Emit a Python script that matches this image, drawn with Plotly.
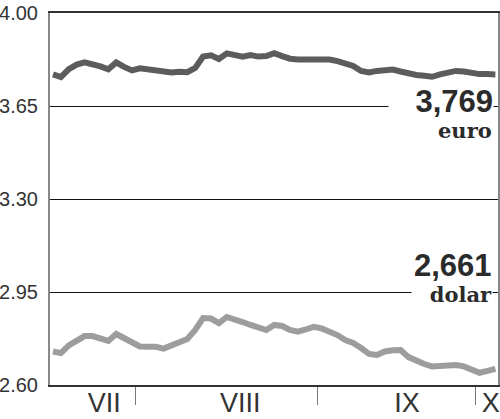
import plotly.graph_objects as go

# business-day index (17 VII 2007 .. 3 X 2007)
day_index = list(range(57))

euro = [3.769, 3.759, 3.789, 3.806, 3.814, 3.808, 3.799, 3.788, 3.814, 3.797,
        3.784, 3.792, 3.788, 3.780, 3.775, 3.776, 3.779, 3.777, 3.793, 3.836,
        3.841, 3.827, 3.848, 3.840, 3.836, 3.842, 3.836, 3.838, 3.849, 3.838,
        3.828, 3.825, 3.825, 3.830, 3.828, 3.825, 3.819, 3.812, 3.801, 3.782,
        3.776, 3.782, 3.786, 3.787, 3.780, 3.772, 3.767, 3.764, 3.760, 3.769,
        3.778, 3.782, 3.780, 3.774, 3.770, 3.770, 3.769]

dolar = [2.726, 2.720, 2.749, 2.769, 2.784, 2.784, 2.773, 2.766, 2.792, 2.775,
         2.760, 2.745, 2.744, 2.744, 2.737, 2.751, 2.764, 2.773, 2.807, 2.852,
         2.850, 2.833, 2.856, 2.848, 2.837, 2.826, 2.816, 2.807, 2.826, 2.822,
         2.807, 2.801, 2.809, 2.819, 2.813, 2.801, 2.788, 2.769, 2.758, 2.739,
         2.717, 2.713, 2.726, 2.731, 2.732, 2.705, 2.689, 2.679, 2.670, 2.672,
         2.675, 2.675, 2.670, 2.658, 2.646, 2.653, 2.661]

month_boundaries = [10.5, 33.5, 53.5]
month_label_pos = [6.5, 23.7, 44.8, 55.4]
month_labels = ["VII", "VIII", "IX", "X"]

y_ticks = [2.60, 2.95, 3.30, 3.65, 4.00]
y_tick_text = ["2.60", "2.95", "3.30", "3.65", "4.00"]

last_euro_text = "3,769"
last_dolar_text = "2,661"

fig = go.Figure()
fig.add_trace(go.Scatter(x=day_index, y=euro, mode="lines",
                         line=dict(color="#5c5c5c", width=6), hoverinfo="skip"))
fig.add_trace(go.Scatter(x=day_index, y=dolar, mode="lines",
                         line=dict(color="#9d9d9d", width=6), hoverinfo="skip"))
# invisible trace to activate second x axis for month labels
fig.add_trace(go.Scatter(x=[day_index[0]], y=[euro[0]], xaxis="x2", mode="markers",
                         marker=dict(opacity=0), hoverinfo="skip"))

xr = [-0.38, 56.33]
fig.update_layout(
    width=500, height=419,
    margin=dict(l=50, r=2, t=13, b=34, autoexpand=False),
    paper_bgcolor="white", plot_bgcolor="white",
    showlegend=False,
    xaxis=dict(range=xr, tickvals=month_boundaries, showticklabels=False,
               ticks="outside", ticklen=18, tickwidth=1, tickcolor="#777",
               showgrid=False, zeroline=False, showline=True, linecolor="#333",
               linewidth=1.5, mirror=True, automargin=False),
    xaxis2=dict(range=xr, overlaying="x", side="bottom", tickvals=month_label_pos,
                ticktext=month_labels, ticks="", showgrid=False, zeroline=False,
                showline=False, ticklabelstandoff=-1, automargin=False,
                ticklabeloverflow="allow",
                tickfont=dict(family="Liberation Sans Narrow, Liberation Sans", size=27, color="#333")),
    yaxis=dict(range=[2.60, 4.00], tickvals=y_ticks, ticktext=y_tick_text,
               showgrid=True, gridcolor="#111", gridwidth=1, zeroline=False,
               showline=True, linecolor="#888", linewidth=2, mirror=True,
               ticks="", ticklabelstandoff=6, automargin=False,
               ticklabeloverflow="allow",
               tickfont=dict(family="Liberation Sans", size=20, color="#333")),
)

big = dict(family="Liberation Sans", size=31, color="#2b2b2b")
small = dict(family="DejaVu Serif", size=21, color="#2b2b2b")
fig.add_annotation(xref="paper", yref="y", x=1, y=3.65, xanchor="right", yanchor="middle",
                   xshift=-4, yshift=5, text="<b>" + last_euro_text + "</b>", font=big,
                   showarrow=False, bgcolor="white", width=104, align="right", borderpad=0)
fig.add_annotation(xref="paper", yref="y", x=1, y=3.65, xanchor="right", yanchor="middle",
                   xshift=-4, yshift=-24, text="<b>euro</b>", font=small,
                   showarrow=False, align="right")
fig.add_annotation(xref="paper", yref="y", x=1, y=2.95, xanchor="right", yanchor="middle",
                   xshift=-4, yshift=27, text="<b>" + last_dolar_text + "</b>", font=big,
                   showarrow=False, align="right")
fig.add_annotation(xref="paper", yref="y", x=1, y=2.95, xanchor="right", yanchor="middle",
                   xshift=-5, yshift=-2, text="<b>dolar</b>", font=small,
                   showarrow=False, bgcolor="white", width=80, align="right", borderpad=0)

fig.write_html("out.html", config={"displayModeBar": False},
               post_script="document.body.style.margin='0';")
